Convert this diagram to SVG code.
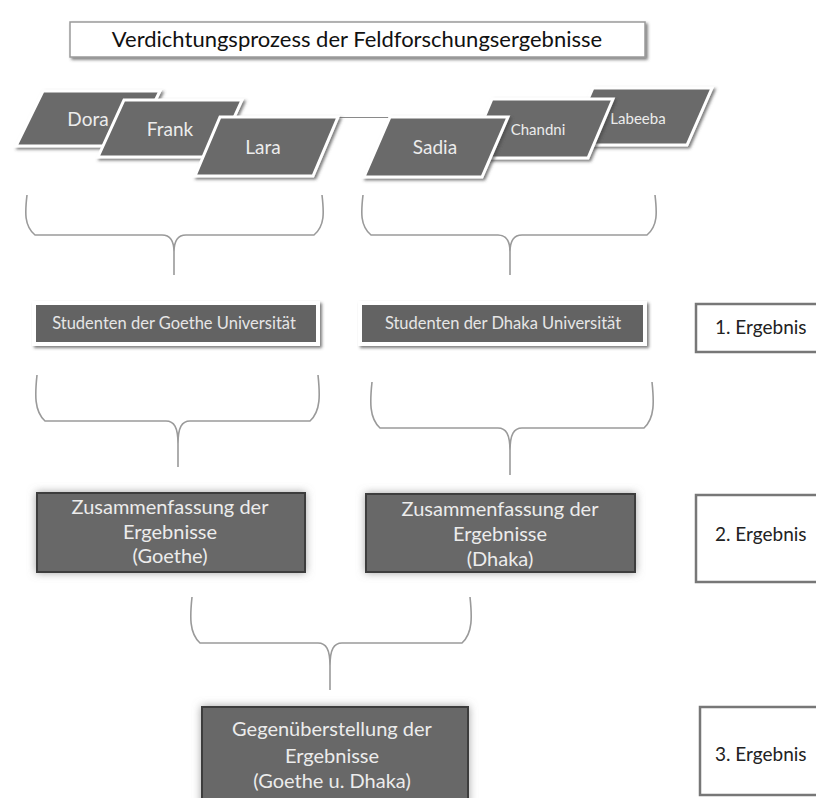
<svg xmlns="http://www.w3.org/2000/svg" width="816" height="798" viewBox="0 0 816 798">
  <defs>
    <filter id="sh" x="-20%" y="-30%" width="140%" height="160%">
      <feDropShadow dx="2" dy="2" stdDeviation="1.5" flood-color="#444" flood-opacity="0.7"/>
    </filter>
    <filter id="glow" x="-20%" y="-30%" width="140%" height="160%">
      <feDropShadow dx="0" dy="0" stdDeviation="4" flood-color="#8a8a8a" flood-opacity="0.8"/>
    </filter>
    <style>
      .para { fill: #6a6a6a; stroke: #ffffff; stroke-width: 3; stroke-linejoin: miter; filter: url(#sh); }
      .name { font-family: Lato, "Liberation Sans", sans-serif; fill: #ececec; text-anchor: middle; }
      .stud { fill: #646464; stroke: #ffffff; stroke-width: 4; filter: url(#sh); }
      .studt { font-family: Lato, "Liberation Sans", sans-serif; font-size: 16.5px; fill: #e6e6e6; text-anchor: middle; }
      .sum { fill: #676767; stroke: #3c3c3c; stroke-width: 2; filter: url(#glow); }
      .sumt { font-family: Lato, "Liberation Sans", sans-serif; font-size: 20px; fill: #ececec; text-anchor: middle; }
      .erg { fill: #ffffff; stroke: #777777; stroke-width: 2.5; }
      .ergt { font-family: Lato, "Liberation Sans", sans-serif; font-size: 19px; fill: #222222; }
      .brace { fill: none; stroke: #9a9a9a; stroke-width: 1.6; }
      .title { fill: #ffffff; stroke: #9a9a9a; stroke-width: 1.5; filter: url(#sh); }
      .titlet { font-family: Lato, "Liberation Sans", sans-serif; font-size: 22px; fill: #111111; text-anchor: middle; }
    </style>
  </defs>
  <rect width="816" height="798" fill="#ffffff"/>

  <g id="title">
    <rect class="title" x="70" y="22" width="575" height="35"/>
    <text class="titlet" x="357" y="47">Verdichtungsprozess der Feldforschungsergebnisse</text>
  </g>

  <g id="connectors">
    <line x1="338" y1="117.5" x2="392" y2="117.5" stroke="#8a8a8a" stroke-width="1.2"/>
    <path class="brace" d="M27,195 C25,212 24,226 35,235 L162,235 C170,235 174,240 174,252 L174,275 M174,252 C174,240 178,235 186,235 L314,235 C325,226 324,212 322,195"/>
    <path class="brace" d="M363,195 C361,212 360,226 371,235 L498,235 C506,235 510,240 510,252 L510,275 M510,252 C510,240 514,235 522,235 L647,235 C658,226 657,212 655,195"/>
    <path class="brace" d="M37,375 C35,394 34,411 45,421 L166,421 C174,421 178,427 178,444 L178,467 M178,444 C178,427 182,421 190,421 L310,421 C321,411 320,394 318,375"/>
    <path class="brace" d="M372,382 C370,401 369,418 380,428 L498,428 C506,428 510,434 510,451 L510,475 M510,451 C510,434 514,428 522,428 L644,428 C655,418 654,401 652,382"/>
    <path class="brace" d="M192,597 C190,616 189,633 200,643 L318,643 C326,643 330,649 330,666 L330,690 M330,666 C330,649 334,643 342,643 L462,643 C473,633 472,616 470,597"/>
  </g>

  <g id="dora">
    <polygon class="para" points="43,91 160,91 133,146 16,146"/>
    <text class="name" x="88" y="126" font-size="19">Dora</text>
  </g>
  <g id="frank">
    <polygon class="para" points="124,100 242,100 216,157 98,157"/>
    <text class="name" x="170" y="136" font-size="19">Frank</text>
  </g>
  <g id="lara">
    <polygon class="para" points="220,117 338,117 313,176 195,176"/>
    <text class="name" x="263" y="154" font-size="19">Lara</text>
  </g>

  <g id="labeeba">
    <polygon class="para" points="593,88 712,88 687,145 568,145"/>
    <text class="name" x="638" y="124" font-size="15">Labeeba</text>
  </g>
  <g id="chandni">
    <polygon class="para" points="492,99 613,99 588,158 467,158"/>
    <text class="name" x="538" y="135" font-size="15">Chandni</text>
  </g>
  <g id="sadia">
    <polygon class="para" points="390,117 508,117 482,177 364,177"/>
    <text class="name" x="435" y="154" font-size="19">Sadia</text>
  </g>

  <g id="studenten-goethe">
    <rect class="stud" x="34" y="303" width="284" height="41"/>
    <text class="studt" x="174" y="329">Studenten  der Goethe Universität</text>
  </g>
  <g id="studenten-dhaka">
    <rect class="stud" x="360" y="303" width="285" height="41"/>
    <text class="studt" x="503" y="329">Studenten  der Dhaka Universität</text>
  </g>

  <g id="ergebnis-1">
    <rect class="erg" x="696" y="304" width="130" height="48"/>
    <text class="ergt" x="715" y="334">1. Ergebnis</text>
  </g>

  <g id="zusammenfassung-goethe">
    <rect class="sum" x="37" y="493" width="268" height="79"/>
    <text class="sumt" x="170" y="514">Zusammenfassung der</text>
    <text class="sumt" x="170" y="539">Ergebnisse</text>
    <text class="sumt" x="170" y="563">(Goethe)</text>
  </g>
  <g id="zusammenfassung-dhaka">
    <rect class="sum" x="366" y="494" width="269" height="78"/>
    <text class="sumt" x="500" y="516">Zusammenfassung der</text>
    <text class="sumt" x="500" y="541">Ergebnisse</text>
    <text class="sumt" x="500" y="566">(Dhaka)</text>
  </g>

  <g id="ergebnis-2">
    <rect class="erg" x="696" y="495" width="130" height="87"/>
    <text class="ergt" x="715" y="541">2. Ergebnis</text>
  </g>

  <g id="gegenueberstellung">
    <rect class="sum" x="202" y="707" width="266" height="110"/>
    <text class="sumt" x="332" y="736">Gegenüberstellung der</text>
    <text class="sumt" x="332" y="763">Ergebnisse</text>
    <text class="sumt" x="332" y="788">(Goethe u. Dhaka)</text>
  </g>

  <g id="ergebnis-3">
    <rect class="erg" x="700" y="707" width="130" height="88"/>
    <text class="ergt" x="715" y="761">3. Ergebnis</text>
  </g>
</svg>
